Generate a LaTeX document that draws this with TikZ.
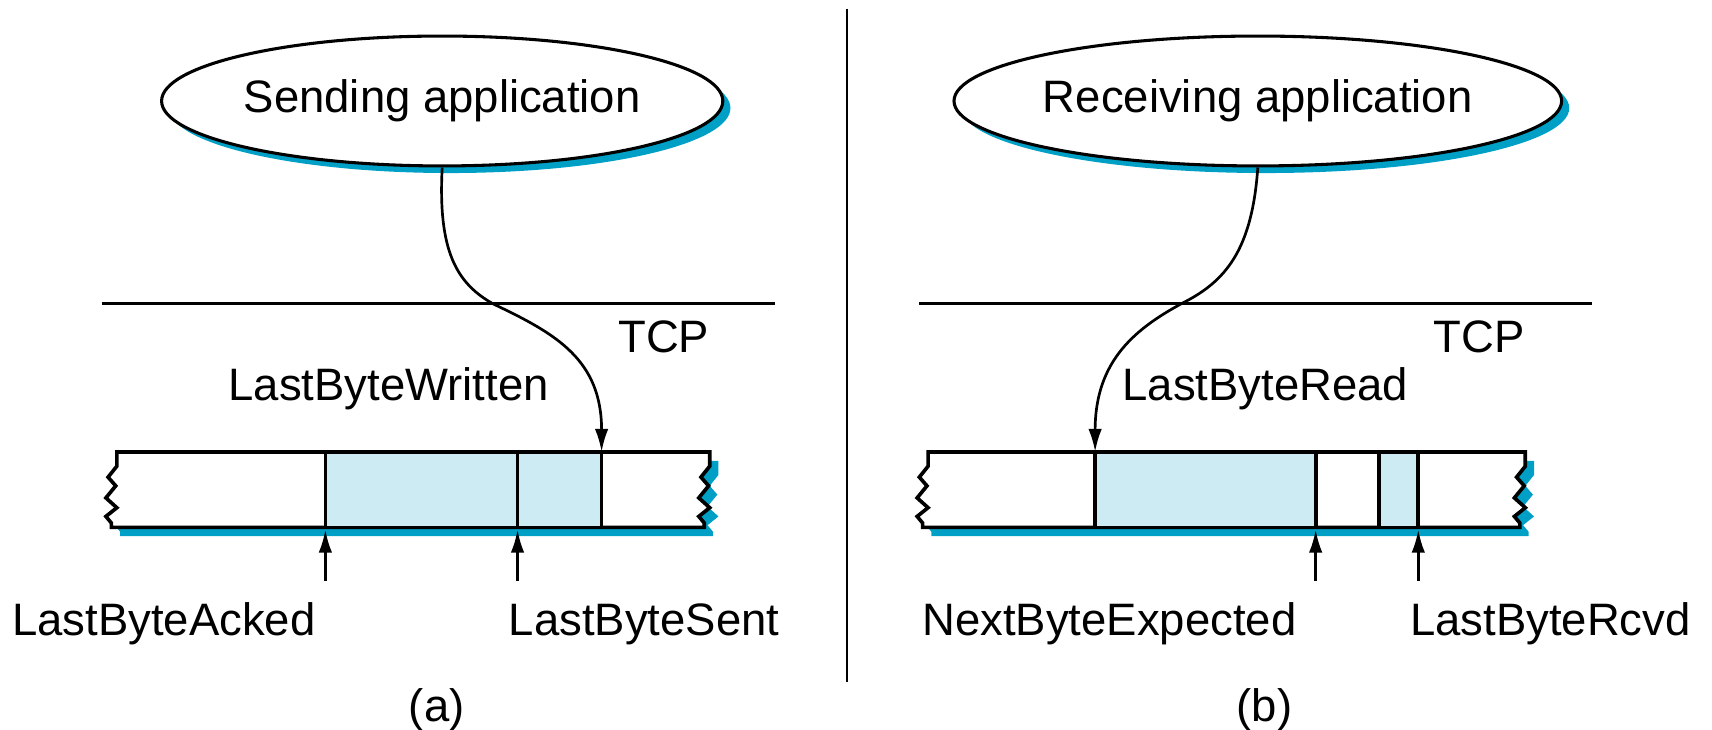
\documentclass[tikz,border=0pt]{standalone}
\usepackage{fontspec}
\setmainfont{Liberation Sans}
\usetikzlibrary{arrows.meta, shapes.geometric, shadows}
\definecolor{shadowblue}{HTML}{00A0C6}
\definecolor{windowblue}{HTML}{CCEBF2}

\begin{document}
\begin{tikzpicture}[x = 0.02cm, y = -0.02cm, > = {Latex[length = 12pt, width = 7pt]},
	font = \fontsize{23.7}{28}\selectfont,
	app/.style = {ellipse, draw, line width = 1.6pt, fill = white, inner sep = 0pt,
		minimum width = 8.86cm, minimum height = 2.38cm,
		drop shadow = {shadow xshift = 0.14cm, shadow yshift = -0.13cm, fill = shadowblue, opacity = 1}},
	buf/.style = {line width = 1.9pt, fill = white,
		drop shadow = {shadow xshift = 0.16cm, shadow yshift = -0.16cm, fill = shadowblue, opacity = 1}},
	window/.style = {line width = 1.9pt, fill = windowblue},
	pointer/.style = {->, line width = 1.4pt},
	txt/.style = {anchor = base, inner sep = 0pt}]

\useasboundingbox (0, 0) rectangle (1568, 668);

% Divider

\draw [line width = 1.1pt] (776, 8) -- (776, 625);

% (a) Sending side

\node [app] (sendapp) at (405, 92.5) {Sending application};

\draw [line width = 1.1pt] (93, 278) -- (710, 278);
\node [txt] (tcpa) at (608, 323) {TCP};

\begin{scope}

	\filldraw [buf] (107, 414) -- (650, 414)
		-- ++(0, 13) -- ++(-8, 10) -- ++(7, 8) -- ++(-9, 11) -- ++(10, 9) -- ++(-10, 8) -- ++(5, 6) -- ++(0, 4)
		-- (102, 483)
		-- ++(0, -4) -- ++(-5, -6) -- ++(10, -8) -- ++(-10, -9) -- ++(9, -11) -- ++(-7, -8) -- ++(8, -10) -- cycle;
	\filldraw [window] (298, 414) rectangle (551, 483);
	\draw [line width = 1.9pt] (474, 414) -- (474, 483);

\end{scope}

\coordinate (written) at (551, 414);
\coordinate (acked) at (298, 485);
\coordinate (acked tail) at (298, 532);
\coordinate (sent) at (474, 485);
\coordinate (sent tail) at (474, 532);

\draw [pointer] (sendapp.south) .. controls (401, 230) and (418, 260) .. (453, 279)
	.. controls (510, 306) and (551, 330) .. (written);
\draw [pointer] (acked tail) -- (acked);
\draw [pointer] (sent tail) -- (sent);

\node [txt] (lbw) at (356, 367) {LastByteWritten};
\node [txt] (lba) at (150, 582) {LastByteAcked};
\node [txt] (lbs) at (590, 582) {LastByteSent};
\node [txt] (capa) at (400, 661) {(a)};

% (b) Receiving side

\node [app] (recvapp) at (1152, 92.5) {Receiving application};

\draw [line width = 1.1pt] (842, 278) -- (1458, 278);
\node [txt] (tcpb) at (1355, 323) {TCP};

\begin{scope}

	\filldraw [buf] (850, 414) -- (1397, 414)
		-- ++(0, 13) -- ++(-8, 10) -- ++(7, 8) -- ++(-9, 11) -- ++(10, 9) -- ++(-10, 8) -- ++(5, 6) -- ++(0, 4)
		-- (845, 483)
		-- ++(0, -4) -- ++(-5, -6) -- ++(10, -8) -- ++(-10, -9) -- ++(9, -11) -- ++(-7, -8) -- ++(8, -10) -- cycle;
	\filldraw [window] (1003, 414) rectangle (1205, 483);
	\filldraw [window] (1263, 414) rectangle (1299, 483);

\end{scope}

\coordinate (read) at (1003, 414);
\coordinate (expected) at (1205, 485);
\coordinate (expected tail) at (1205, 532);
\coordinate (rcvd) at (1299, 485);
\coordinate (rcvd tail) at (1299, 532);

\draw [pointer] (recvapp.south) .. controls (1147, 225) and (1125, 255) .. (1088, 275)
	.. controls (1040, 300) and (1003, 330) .. (read);
\draw [pointer] (expected tail) -- (expected);
\draw [pointer] (rcvd tail) -- (rcvd);

\node [txt] (lbr) at (1159, 367) {LastByteRead};
\node [txt] (nbe) at (1016, 582) {NextByteExpected};
\node [txt] (lbrc) at (1420, 582) {LastByteRcvd};
\node [txt] (capb) at (1158, 661) {(b)};

\end{tikzpicture}
\end{document}
